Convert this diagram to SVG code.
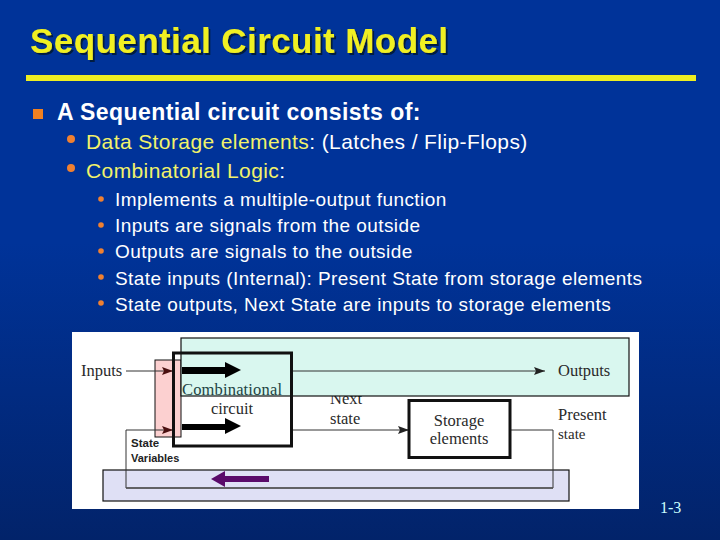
<svg xmlns="http://www.w3.org/2000/svg" width="720" height="540" viewBox="0 0 720 540">
<defs>
<linearGradient id="bg" x1="0" y1="0" x2="0" y2="1"><stop offset="0" stop-color="#003399"/><stop offset="0.45" stop-color="#003399"/><stop offset="1" stop-color="#02236a"/></linearGradient>
<filter id="sh" x="-5%" y="-20%" width="110%" height="140%"><feDropShadow dx="2" dy="2" stdDeviation="0.5" flood-color="#001a40" flood-opacity="1"/></filter>
<marker id="ah" markerUnits="userSpaceOnUse" markerWidth="12" markerHeight="8" refX="11" refY="4" orient="auto"><path d="M0 0L11 4L0 8L2 4Z" fill="#222"/></marker>
<marker id="ahr" markerUnits="userSpaceOnUse" markerWidth="12" markerHeight="8" refX="11" refY="4" orient="auto"><path d="M0 0L11 4L0 8L2 4Z" fill="#4a1010"/></marker>
</defs>
<style>
.s{font-family:"Liberation Sans",Arial,sans-serif}
.d{font-family:"Liberation Serif","Times New Roman",serif;font-size:16.500px;fill:#2a2a2a}
.t3{font-size:19px;fill:#fff;letter-spacing:.43px}
.t2{font-size:21px;fill:#f2f26a;letter-spacing:.4px}
.o{fill:#f08030}
.l{fill:none;stroke:#333;stroke-width:1}
.k{fill:none;stroke:#111;stroke-width:3}
</style>
<rect width="720" height="540" fill="url(#bg)"/>
<g id="title">
<text class="s" x="30" y="53" font-size="35" font-weight="bold" fill="#f0f020" filter="url(#sh)" letter-spacing=".42">Sequential Circuit Model</text>
<rect x="26" y="75" width="670" height="6" fill="#eeee22"/>
</g>
<g id="bullets">
<rect x="33" y="109" width="10" height="10" fill="#f08020"/>
<text class="s" x="57" y="120" font-size="23" font-weight="bold" fill="#fff" letter-spacing=".44">A Sequential circuit consists of:</text>
<circle class="o" cx="71" cy="139" r="4"/>
<text class="s t2" x="86" y="149">Data Storage elements<tspan fill="#fff">: (Latches / Flip-Flops)</tspan></text>
<circle class="o" cx="71" cy="168" r="4"/>
<text class="s t2" x="86" y="178">Combinatorial Logic<tspan fill="#fff">:</tspan></text>
<circle class="o" cx="101" cy="199" r="2.800"/>
<text class="s t3" x="115" y="206">Implements a multiple-output function</text>
<circle class="o" cx="101" cy="225" r="2.800"/>
<text class="s t3" x="115" y="232">Inputs are signals from the outside</text>
<circle class="o" cx="101" cy="251" r="2.800"/>
<text class="s t3" x="115" y="258">Outputs are signals to the outside</text>
<circle class="o" cx="101" cy="277" r="2.800"/>
<text class="s t3" x="115" y="285">State inputs (Internal): Present State from storage elements</text>
<circle class="o" cx="101" cy="303" r="2.800"/>
<text class="s t3" x="115" y="311">State outputs, Next State are inputs to storage elements</text>
</g>
<g id="canvas"><rect x="72" y="332" width="567" height="177" fill="#fff"/></g>
<g id="label-next"><text class="d" x="330" y="404">Next</text><text class="d" x="330" y="424">state</text></g>
<g id="region-state-variables"><rect x="155" y="360" width="26" height="77" fill="#fcd0d0" stroke="#111"/></g>
<g id="region-outputs"><rect x="181" y="338" width="448" height="58" fill="#d9f7ef" stroke="#111" stroke-width="1.200"/></g>
<g id="region-feedback"><rect x="103" y="470" width="466" height="31" fill="#dfe0f5" stroke="#111" stroke-width="1.200"/></g>
<g id="connectors">
<path class="l" d="M126 371H173" marker-end="url(#ahr)"/>
<path class="l" d="M292 371H545" marker-end="url(#ah)"/>
<path class="l" d="M292 430H409" marker-end="url(#ah)"/>
<path class="l" d="M510 430H553V488H126V430H173" marker-end="url(#ahr)"/>
<path d="M126 488H553" fill="none" stroke="#555" stroke-width="1.600"/>
</g>
<g id="combinational">
<rect class="k" x="173.500" y="353" width="118" height="93"/>
<text class="d" x="182" y="395" style="fill:#244" textLength="100">Combinational</text>
<text class="d" x="232" y="414" text-anchor="middle">circuit</text>
</g>
<g id="storage">
<rect class="k" x="409" y="400.500" width="101" height="57" fill="#fff"/>
<text class="d" x="459" y="426" text-anchor="middle">Storage</text>
<text class="d" x="459" y="444" text-anchor="middle">elements</text>
</g>
<g id="flow-arrows">
<path d="M182 367H225V362L241 370L225 378V374H182Z" fill="#000"/>
<path d="M182 424H225V418L241 426L225 434V430H182Z" fill="#000"/>
<path d="M269 476H225V471L211 479L225 487V482H269Z" fill="#5a0a6a"/>
</g>
<g id="labels">
<text class="d" x="81" y="376">Inputs</text>
<text class="d" x="558" y="376">Outputs</text>
<text class="d" x="558" y="420">Present</text>
<text class="d" x="558" y="439" style="font-size:15px">state</text>
<text class="s" x="131" y="447" font-size="11.500" font-weight="bold" fill="#222">State</text>
<text class="s" x="131" y="462" font-size="11" font-weight="bold" fill="#222">Variables</text>
</g>
<text id="page" x="660" y="513" font-family="Liberation Serif,serif" font-size="16" fill="#ccffff">1-3</text>
</svg>
